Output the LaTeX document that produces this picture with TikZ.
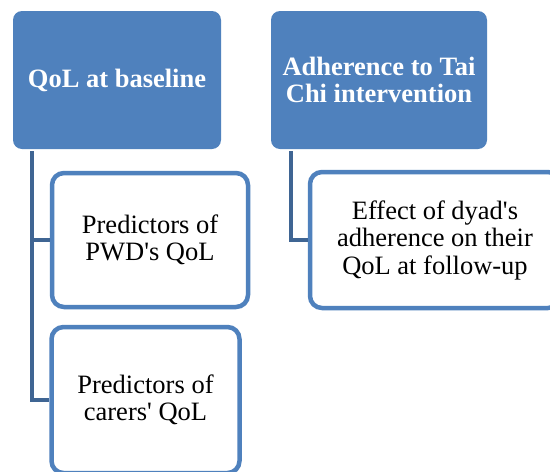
\documentclass[tikz,border=0pt]{standalone}
\usepackage{fontspec}
\setmainfont{Liberation Serif}[Ligatures=TeXOff]
\definecolor{accent}{HTML}{4F81BD}
\definecolor{linkc}{HTML}{3F6593}
\tikzset{
  parentbox/.style={draw=none, fill=accent, rounded corners=9pt, text=white,
    font=\fontsize{26.5}{27.5}\selectfont\bfseries, align=center, inner sep=0pt},
  childbox/.style={draw=accent, line width=4.5pt, fill=white, rounded corners=12pt,
    font=\fontsize{26.5}{27.5}\selectfont, align=center, inner sep=0pt},
  link/.style={draw=linkc, line width=4pt, line cap=butt}
}
\begin{document}
\begin{tikzpicture}[x=1pt,y=-1pt]
\useasboundingbox (0,0) rectangle (550,472);
\clip (0,0) rectangle (550,472);
\fill[white] (0,0) rectangle (550,472);
\node[parentbox, minimum width=208pt, minimum height=138pt] (p1) at (117,80) {QoL at baseline};
\node[parentbox, minimum width=216pt, minimum height=138pt] (p2) at (379,80) {Adherence to Tai\\Chi intervention};
\node[childbox, minimum width=196pt, minimum height=134pt] (c1) at (150,240) {Predictors of\\PWD's QoL};
\node[childbox, minimum width=188pt, minimum height=146pt] (c2) at (145.5,400) {Predictors of\\carers' QoL};
\node[childbox, minimum width=250pt, minimum height=136pt] (c3) at (435,240) {Effect of dyad's\\adherence on their\\QoL at follow-up};
\coordinate (a1) at (32,151);
\coordinate (a2) at (291,151);
\draw[link] (a1) |- (c1.west);
\draw[link] (a1) |- (c2.west);
\draw[link] (a2) |- (c3.west);
\end{tikzpicture}
\end{document}
